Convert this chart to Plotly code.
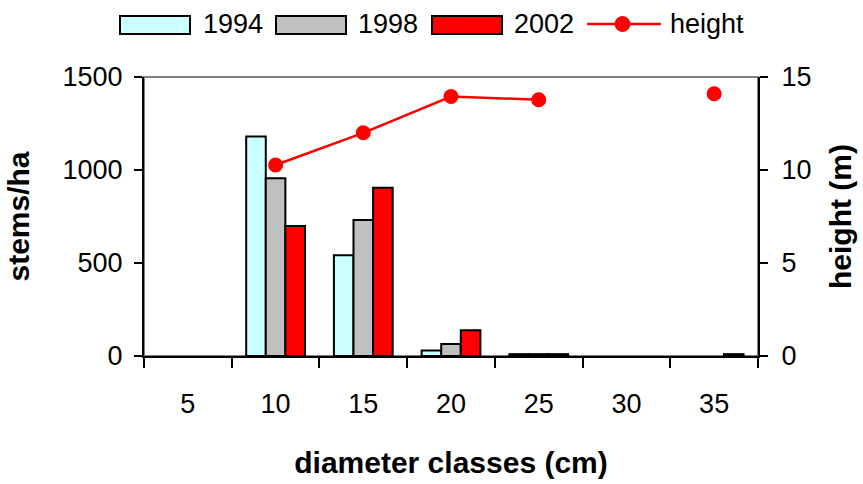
import plotly.graph_objects as go

categories = ["5", "10", "15", "20", "25", "30", "35"]
stems_1994 = [None, 1180, 541, 29, 10, None, None]
stems_1998 = [None, 956, 731, 65, 10, None, None]
stems_2002 = [None, 699, 905, 138, 10, None, 10]
height_m = [None, 10.27, 12.0, 13.95, 13.78, None, 14.1]

series_names = ["1994", "1998", "2002"]
series_colors = ["#CCFFFF", "#C0C0C0", "#FF0000"]
line_color = "#FF0000"

FONT = "Liberation Sans, Arial, sans-serif"
W, H = 863, 484
ML, MR, MT, MB = 144, 105, 77, 128
PW, PH = W - ML - MR, H - MT - MB


def px_x(p):
    return (p - ML) / PW


def px_y(p):
    return (H - MB - p) / PH


fig = go.Figure()
for name, vals, col in zip(series_names, [stems_1994, stems_1998, stems_2002], series_colors):
    fig.add_trace(go.Bar(x=categories, y=vals, name=name,
                         marker=dict(color=col, line=dict(color="black", width=2))))
fig.add_trace(go.Scatter(x=categories, y=height_m, name="height", yaxis="y2",
                         mode="lines+markers", connectgaps=False,
                         line=dict(color=line_color, width=2.5),
                         marker=dict(color=line_color, size=15)))

# legend (drawn as layout decorations)
shapes = [dict(type="rect", xref="paper", yref="paper", x0=0, x1=1, y0=0, y1=1,
               line=dict(color="#808080", width=2), layer="below")]
annotations = []
swatch_x = [(120, 190), (276, 346), (432, 502)]
text_x = [201, 356, 512]
for (x0, x1), tx, name, col in zip(swatch_x, text_x, series_names, series_colors):
    shapes.append(dict(type="rect", xref="paper", yref="paper",
                       x0=px_x(x0), x1=px_x(x1), y0=px_y(34), y1=px_y(16),
                       fillcolor=col, line=dict(color="black", width=2)))
    annotations.append(dict(text=name, xref="paper", yref="paper", x=px_x(tx), y=px_y(24),
                            xanchor="left", yanchor="middle", showarrow=False,
                            font=dict(size=27)))
shapes.append(dict(type="line", xref="paper", yref="paper", x0=px_x(587), x1=px_x(661),
                   y0=px_y(24), y1=px_y(24), line=dict(color=line_color, width=2.5)))
shapes.append(dict(type="circle", xref="paper", yref="paper", x0=px_x(615), x1=px_x(630),
                   y0=px_y(31.5), y1=px_y(16.5), fillcolor=line_color,
                   line=dict(color=line_color, width=1)))
annotations.append(dict(text="height", xref="paper", yref="paper", x=px_x(668), y=px_y(24),
                        xanchor="left", yanchor="middle", showarrow=False,
                        font=dict(size=27)))

fig.update_layout(
    width=W, height=H,
    margin=dict(l=ML, r=MR, t=MT, b=MB, autoexpand=False),
    paper_bgcolor="white", plot_bgcolor="white",
    font=dict(family=FONT, size=27, color="black"),
    barmode="group", bargap=0.33, bargroupgap=0,
    showlegend=False,
    xaxis=dict(type="category", showline=True, linecolor="black", linewidth=2,
               ticks="outside", ticklen=10, tickcolor="black", tickwidth=1.5,
               tickson="boundaries", ticklabelstandoff=23, showgrid=False,
               automargin=False,
               title=dict(text="<b>diameter classes (cm)</b>", standoff=34,
                          font=dict(size=30))),
    yaxis=dict(range=[0, 1500], tickvals=[0, 500, 1000, 1500], showgrid=False,
               showline=True, linecolor="black", linewidth=2, zeroline=False,
               ticks="outside", ticklen=8, tickcolor="black", tickwidth=1.5,
               ticklabelstandoff=6, automargin=False,
               title=dict(text="<b>stems/ha</b>", standoff=24, font=dict(size=30))),
    yaxis2=dict(range=[0, 15], tickvals=[0, 5, 10, 15], overlaying="y", side="right",
                showgrid=False, showline=True, linecolor="black", linewidth=2,
                zeroline=False, ticks="outside", ticklen=8, tickcolor="black",
                tickwidth=1.5, ticklabelstandoff=8, automargin=False,
                title=dict(text="<b>height (m)</b>", standoff=20, font=dict(size=30))),
    shapes=shapes,
    annotations=annotations,
)

fig.write_html("out.html", config={"displayModeBar": False},
               post_script="document.body.style.margin='0';")
